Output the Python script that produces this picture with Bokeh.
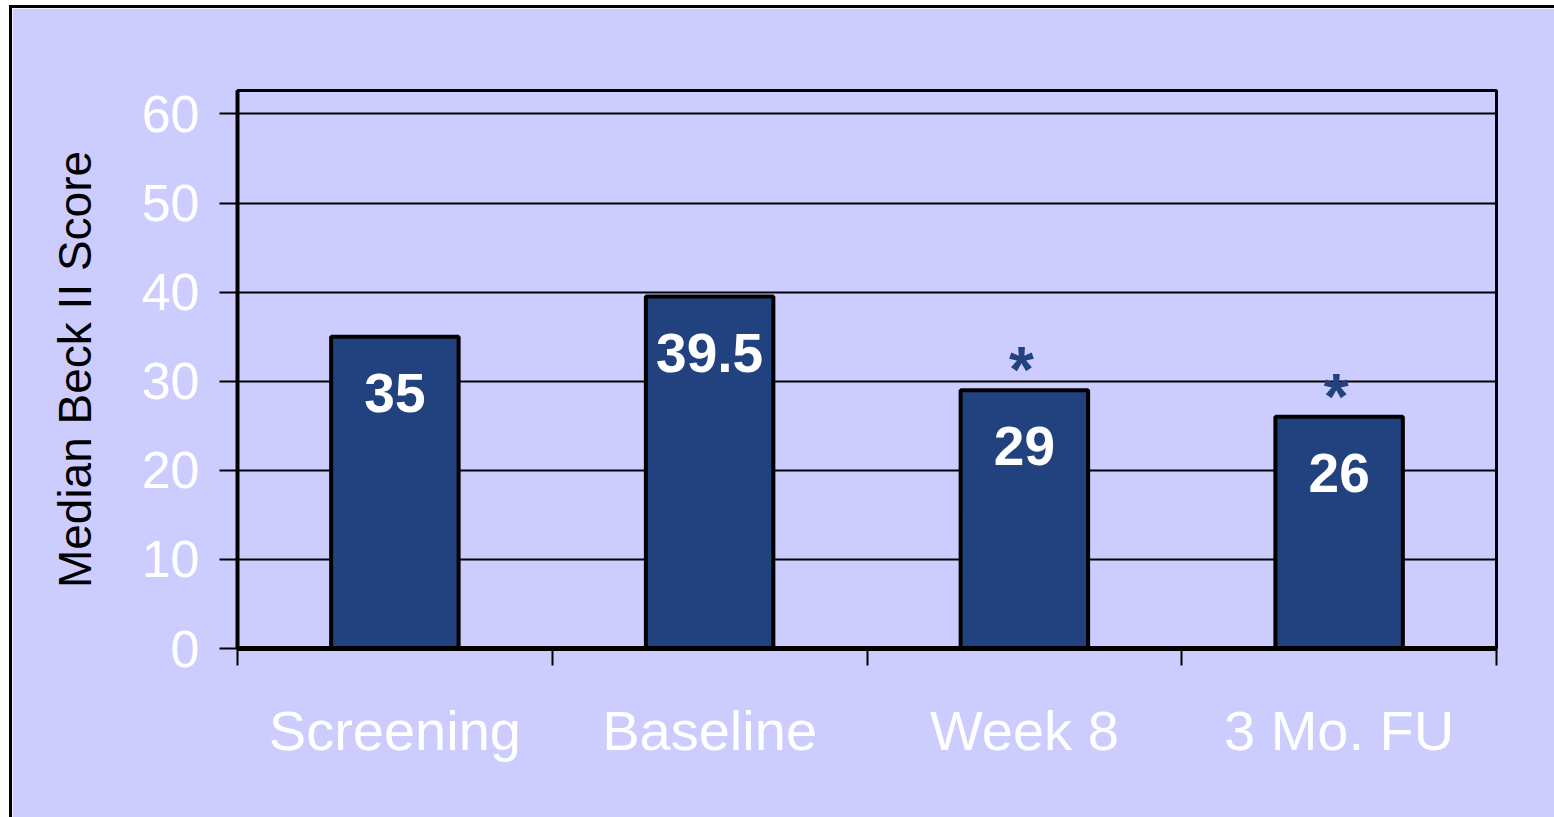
from bokeh.plotting import figure
from bokeh.models import Range1d, FixedTicker, ColumnDataSource
from bokeh.core.properties import value
from bokeh.embed import file_html
from bokeh.resources import INLINE

# ---- data ----
categories = ["Screening", "Baseline", "Week 8", "3 Mo. FU"]
medians = [35, 39.5, 29, 26]
value_labels = ["35", "39.5", "29", "26"]
significant = [False, False, True, True]
y_ticks = [0, 10, 20, 30, 40, 50, 60]
y_title = "Median Beck II Score"

LAV = "#CCCCFF"
BAR = "#21427F"
FONT = "Liberation Sans"

xs = [i + 0.5 for i in range(len(categories))]
bounds = list(range(len(categories) + 1))

p = figure(width=1545, height=812,
           x_range=Range1d(0, len(categories)), y_range=Range1d(0, 62.63),
           output_backend="svg", toolbar_location=None,
           min_border_left=225, min_border_right=61,
           min_border_top=82, min_border_bottom=172,
           background_fill_color=LAV, border_fill_color=LAV,
           outline_line_color="black", outline_line_width=3)
p.styles = {"margin-left": "9px", "margin-top": "5px",
            "border-left": "3px solid black", "border-top": "3px solid black"}

src = ColumnDataSource(dict(x=xs, top=medians, lab=value_labels))
p.vbar(x="x", top="top", width=0.405, bottom=0, source=src,
       fill_color=BAR, line_color="black", line_width=4)

p.text(x="x", y="top", text="lab", source=src, text_color="white",
       text_font=value(FONT), text_font_style="bold", text_font_size="55px",
       text_align="center", text_baseline="alphabetic", y_offset=56)

sx = [x for x, s in zip(xs, significant) if s]
sy = [m for m, s in zip(medians, significant) if s]
p.text(x=sx, y=sy, text=["*"] * len(sx), text_color=BAR,
       text_font=value(FONT), text_font_style="bold", text_font_size="64px",
       text_align="center", text_baseline="alphabetic", y_offset=-20, x_offset=-3)

# grid
p.xgrid.visible = False
p.ygrid.ticker = FixedTicker(ticks=y_ticks)
p.ygrid.grid_line_color = "black"
p.ygrid.grid_line_width = 2

# y axis
ya = p.yaxis[0]
ya.ticker = FixedTicker(ticks=y_ticks)
ya.axis_line_width = 4
ya.axis_line_color = "black"
ya.major_tick_out = 18
ya.major_tick_in = 0
ya.major_tick_line_width = 2
ya.minor_tick_line_color = None
ya.major_label_text_color = "white"
ya.major_label_text_font = FONT
ya.major_label_text_font_size = "52px"
ya.major_label_standoff = 20
ya.axis_label = y_title
ya.axis_label_text_font = FONT
ya.axis_label_text_font_style = "normal"
ya.axis_label_text_font_size = "46px"
ya.axis_label_text_color = "black"
ya.axis_label_standoff = 38

# x axis
xa = p.xaxis[0]
xa.ticker = FixedTicker(ticks=xs, minor_ticks=bounds)
xa.major_label_overrides = {x: c for x, c in zip(xs, categories)}
xa.axis_line_width = 5
xa.axis_line_color = "black"
xa.major_tick_out = 0
xa.major_tick_in = 0
xa.major_tick_line_color = None
xa.minor_tick_out = 17
xa.minor_tick_in = 0
xa.minor_tick_line_width = 2
xa.minor_tick_line_color = "black"
xa.major_label_text_color = "white"
xa.major_label_text_font = FONT
xa.major_label_text_font_size = "56px"
xa.major_label_standoff = 33

open("out.html", "w").write(file_html(p, INLINE))
